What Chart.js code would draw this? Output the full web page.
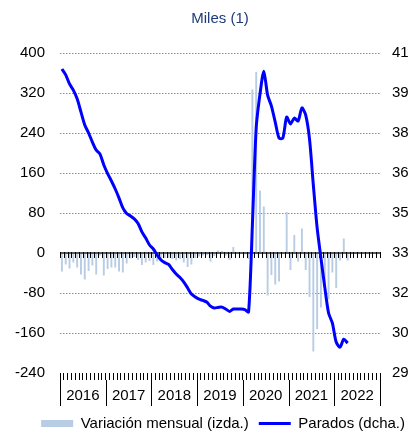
<!DOCTYPE html>
<html>
<head>
<meta charset="utf-8">
<script src="https://cdn.jsdelivr.net/npm/chart.js@4.4.0/dist/chart.umd.min.js"></script>
<style>
  html, body { margin: 0; padding: 0; background: #fff; overflow: hidden; }
  #wrap { width: 408px; height: 435px; }
</style>
</head>
<body>
<div id="wrap"><canvas id="chart"></canvas></div>
<script>
// Categories: one per month, Jan 2016 - Dec 2022
const years = ['2016', '2017', '2018', '2019', '2020', '2021', '2022'];
const months = [];
years.forEach(function(y) {
    for (let m = 1; m <= 12; m++) months.push(y + '-' + String(m).padStart(2, '0'));
});

// Variación mensual (miles), left axis
const variacion = [
    -37, -23, -31, -19, -29, -43, -53, -36, -25, -43, -5, -45,
    -32, -29, -29, -37, -39, -21, -11, -8, -14, -24, -19, -16,
    -24, -17, -15, -10, -10, -12, -15, -12, -19, -28, -23, -10,
    -7, -5, -4, -17, -6, 5, 4, -5, -14, 12, -2, 2,
    -3, -12, 327, 362, 125, 93, -85, -44, -63, -57, -2, 82,
    -34, 36, -17, 49, -34, -88, -197, -152, -109, -66, -93, -39,
    -70, -15, 29, -15
];

// Parados (miles), right axis
const parados = [
    4040, 4018, 3984, 3961, 3928, 3879, 3830, 3800, 3766, 3736, 3721, 3680,
    3648, 3620, 3590, 3556, 3519, 3498, 3489, 3478, 3461, 3429, 3406, 3380,
    3365, 3343, 3324, 3314, 3307, 3288, 3271, 3258, 3241, 3219, 3196, 3185,
    3177, 3172, 3166, 3151, 3144, 3146, 3147, 3140, 3131, 3140, 3140, 3140,
    3138, 3129, 3455, 3819, 3946, 4032, 3942, 3901, 3841, 3781, 3781, 3860,
    3834, 3856, 3845, 3894, 3867, 3777, 3605, 3444, 3331, 3222, 3125, 3087,
    3016, 2997, 3027, 3012
];

const leftTicks = [-240, -160, -80, 0, 80, 160, 240, 320, 400];
const rightTicks = [2900, 3050, 3200, 3350, 3500, 3650, 3800, 3950, 4100];

const FONT = "'Liberation Sans', Arial, sans-serif";
Chart.defaults.font.family = FONT;
Chart.defaults.font.size = 15;
Chart.defaults.color = '#000';

// zero line with monthly ticks, year boxes under the axis
const axisDecor = {
    id: 'axisDecor',
    beforeDatasetDraw(chart, args) {
        if (args.index !== 1) return;
        const { ctx, chartArea, scales } = chart;
        const x = scales.x;
        const y0 = Math.round(scales.y.getPixelForValue(0));
        const step = x.getPixelForValue(1) - x.getPixelForValue(0);
        ctx.save();
        ctx.strokeStyle = '#5a5a5a';
        ctx.lineWidth = 2;
        ctx.beginPath();
        ctx.moveTo(chartArea.left, y0);
        ctx.lineTo(chartArea.right, y0);
        ctx.stroke();
        ctx.strokeStyle = '#000';
        ctx.lineWidth = 1;
        ctx.beginPath();
        for (let i = 0; i <= months.length; i++) {
            const px = Math.round(x.getPixelForValue(i) - step / 2) + 0.5;
            ctx.moveTo(px, y0 - 1);
            ctx.lineTo(px, y0 + 5);
        }
        ctx.stroke();
        ctx.restore();
    },
    afterDraw(chart) {
        const { ctx, chartArea, scales } = chart;
        const x = scales.x;
        const step = x.getPixelForValue(1) - x.getPixelForValue(0);
        const top = chartArea.bottom + 7;
        const bottom = chartArea.bottom + 33;
        ctx.save();
        ctx.strokeStyle = '#000';
        ctx.lineWidth = 1;
        ctx.fillStyle = '#000';
        ctx.font = '15px ' + FONT;
        ctx.textAlign = 'center';
        ctx.textBaseline = 'middle';
        ctx.beginPath();
        years.forEach(function(yr, k) {
            const a = x.getPixelForValue(k * 12) - step / 2;
            const b = x.getPixelForValue(k * 12 + 11) + step / 2;
            const pa = Math.round(a) + 0.5;
            ctx.moveTo(pa, top);
            ctx.lineTo(pa, bottom);
            if (k === years.length - 1) {
                const pb = Math.round(b) + 0.5;
                ctx.moveTo(pb, top);
                ctx.lineTo(pb, bottom);
            }
            ctx.fillText(yr, (a + b) / 2, chartArea.bottom + 23);
        });
        ctx.stroke();
        ctx.restore();
    }
};

const ctx = document.getElementById('chart').getContext('2d');
const chart = new Chart(ctx, {
    data: {
        labels: months,
        datasets: [{
            type: 'bar',
            label: 'Variación mensual (izda.)',
            data: variacion,
            backgroundColor: '#b8cce4',
            barPercentage: 0.5,
            categoryPercentage: 1,
            yAxisID: 'y',
            order: 1,
            pointStyle: 'rect'
        }, {
            type: 'line',
            label: 'Parados (dcha.)',
            data: parados,
            borderColor: '#0000ff',
            backgroundColor: '#0000ff',
            borderWidth: 3,
            pointRadius: 0,
            tension: 0.25,
            yAxisID: 'y1',
            order: 0,
            pointStyle: 'line'
        }]
    },
    options: {
        responsive: true,
        maintainAspectRatio: false,
        animation: false,
        events: [],
        layout: { padding: { top: 0, left: 0, right: -7, bottom: -6 } },
        scales: {
            x: {
                type: 'category',
                offset: true,
                grid: {
                    offset: true,
                    drawOnChartArea: false,
                    drawTicks: true,
                    tickLength: 7,
                    color: '#000',
                    lineWidth: 1
                },
                border: { display: false },
                ticks: { display: false },
                afterFit: function(s) { s.height = 33; }
            },
            y: {
                position: 'left',
                min: -240,
                max: 400,
                afterBuildTicks: function(s) { s.ticks = leftTicks.map(v => ({ value: v })); },
                ticks: { padding: 15, color: '#000' },
                grid: {
                    drawTicks: false,
                    color: function(c) {
                        return (c.tick && (c.tick.value === -240 || c.tick.value === 0)) ? 'rgba(0,0,0,0)' : '#8c8c8c';
                    },
                    lineWidth: 1
                },
                border: { display: false, dash: [1.5, 1.5] },
                afterFit: function(s) { s.width = 60; }
            },
            y1: {
                position: 'right',
                min: 2900,
                max: 4100,
                afterBuildTicks: function(s) { s.ticks = rightTicks.map(v => ({ value: v })); },
                ticks: { padding: 12, color: '#000', callback: v => String(v) },
                grid: { display: false, drawTicks: false },
                border: { display: false },
                afterFit: function(s) { s.width = 35; }
            }
        },
        plugins: {
            title: {
                display: true,
                text: 'Miles (1)',
                color: '#1f3a78',
                font: { size: 15, weight: 'normal' },
                padding: { top: 10, bottom: 25 },
                fullSize: false
            },
            legend: {
                position: 'bottom',
                align: 'end',
                labels: {
                    usePointStyle: true,
                    pointStyleWidth: 32,
                    boxWidth: 32,
                    boxHeight: 7,
                    padding: 10,
                    color: '#000',
                    font: { size: 15 },
                    sort: (a, b) => a.datasetIndex - b.datasetIndex
                }
            },
            tooltip: { enabled: false }
        }
    },
    plugins: [axisDecor]
});
</script>
</body>
</html>
